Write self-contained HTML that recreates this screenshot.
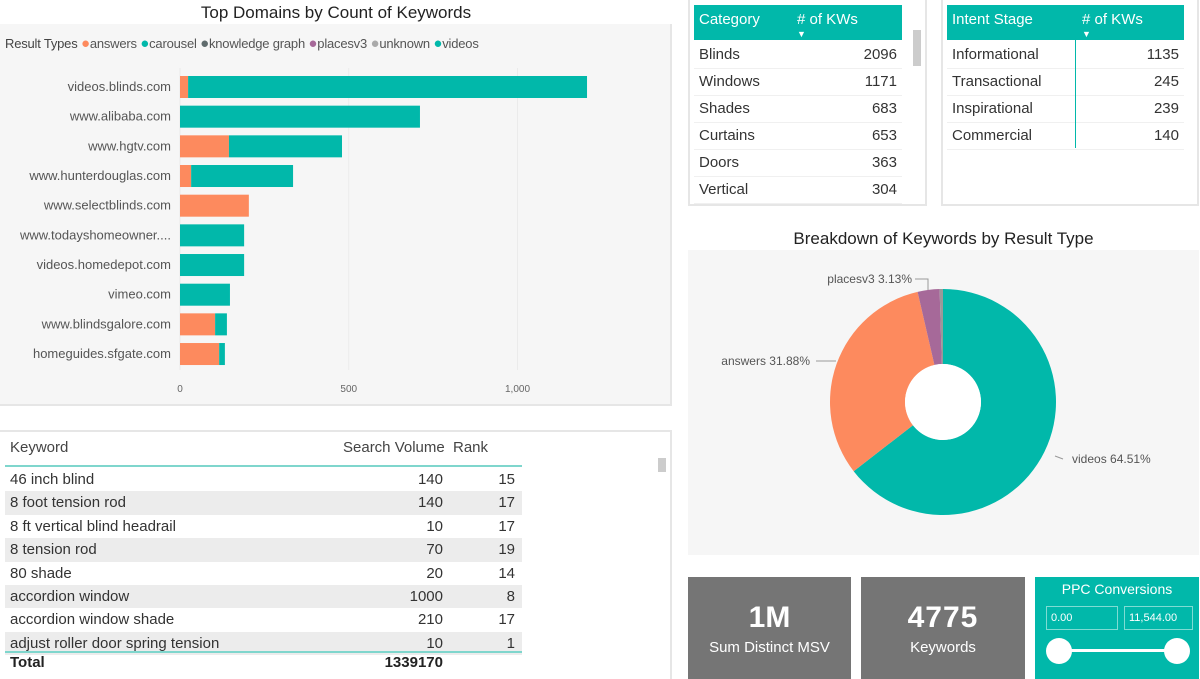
<!DOCTYPE html>
<html><head><meta charset="utf-8"><style>
*{box-sizing:border-box;margin:0;padding:0}
body{width:1200px;height:679px;overflow:hidden;background:#fff;font-family:"Liberation Sans",sans-serif;color:#333;position:relative}
.abs{position:absolute}
.t{font-size:15px;white-space:nowrap}
.r{text-align:right}
</style></head><body>
<div class="abs" style="left:0;top:24px;width:672px;height:382px;background:#f6f6f6;border-bottom:2px solid #e6e6e6;border-right:2px solid #e6e6e6"></div>
<div class="abs" style="left:0;top:3px;width:672px;text-align:center;font-size:17px;color:#222">Top Domains by Count of Keywords</div>
<div class="abs" style="left:5px;top:35px;font-size:13px;color:#555;white-space:nowrap;letter-spacing:-0.2px">
<b style="font-weight:normal;color:#444">Result Types</b>
<span><span style="color:#fd8a5e;font-size:15px">●</span>answers</span>
<span><span style="color:#01b8aa;font-size:15px">●</span>carousel</span>
<span><span style="color:#5f6b6d;font-size:15px">●</span>knowledge graph</span>
<span><span style="color:#a66999;font-size:15px">●</span>placesv3</span>
<span><span style="color:#aaa;font-size:15px">●</span>unknown</span>
<span><span style="color:#01b8aa;font-size:15px">●</span>videos</span>
</div>
<svg class="abs" style="left:0;top:0" width="672" height="406" id="bars"></svg>

<div class="abs" style="left:0;top:430px;width:672px;height:249px;border-top:2px solid #e6e6e6;border-right:2px solid #e6e6e6"></div>
<div id="ktable"></div>

<div class="abs" style="left:688px;top:-2px;width:239px;height:208px;border:2px solid #e6e6e6"></div>
<div class="abs" style="left:694px;top:5px;width:208px;height:35px;background:#01b8aa;color:#fff">
<span class="abs t" style="left:5px;top:6px">Category</span><span class="abs t" style="left:103px;top:6px">#&nbsp;of KWs</span><span class="abs" style="left:103px;top:24px;font-size:9px">▼</span></div>
<div class="abs" style="left:913px;top:30px;width:8px;height:36px;background:#ccc"></div>
<div id="cat"></div>

<div class="abs" style="left:941px;top:-2px;width:258px;height:208px;border:2px solid #e6e6e6"></div>
<div class="abs" style="left:947px;top:5px;width:237px;height:35px;background:#01b8aa;color:#fff">
<span class="abs t" style="left:5px;top:6px">Intent Stage</span><span class="abs t" style="left:135px;top:6px"># of KWs</span><span class="abs" style="left:135px;top:24px;font-size:9px">▼</span></div>
<div id="intent"></div>
<div class="abs" style="left:1075px;top:40px;width:1px;height:108px;background:#01b8aa"></div>

<div class="abs" style="left:688px;top:250px;width:511px;height:305px;background:#f6f6f6"></div>
<div class="abs" style="left:688px;top:229px;width:511px;text-align:center;font-size:17px;color:#222">Breakdown of Keywords by Result Type</div>
<svg class="abs" style="left:688px;top:250px" width="511" height="305" id="pie"></svg>

<div class="abs" style="left:688px;top:577px;width:163px;height:102px;background:#757575;color:#fff;text-align:center">
<div style="font-size:30px;font-weight:bold;margin-top:24px">1M</div><div style="font-size:15px;margin-top:4px">Sum Distinct MSV</div></div>
<div class="abs" style="left:861px;top:577px;width:164px;height:102px;background:#757575;color:#fff;text-align:center">
<div style="font-size:30px;font-weight:bold;margin-top:24px;letter-spacing:1px">4775</div><div style="font-size:15px;margin-top:4px">Keywords</div></div>
<div class="abs" style="left:1035px;top:577px;width:164px;height:102px;background:#01b8aa;color:#fff">
<div style="text-align:center;font-size:14px;margin-top:4px">PPC Conversions</div>
<div class="abs" style="left:11px;top:29px;width:72px;height:24px;border:1px solid #7fdcd3;font-size:11px;padding:5px 4px">0.00</div>
<div class="abs" style="left:89px;top:29px;width:69px;height:24px;border:1px solid #7fdcd3;font-size:11px;padding:5px 4px">11,544.00</div>
<div class="abs" style="left:22px;top:72px;width:120px;height:3px;background:#fff"></div>
<div class="abs" style="left:11px;top:61px;width:26px;height:26px;border-radius:50%;background:#fff"></div>
<div class="abs" style="left:129px;top:61px;width:26px;height:26px;border-radius:50%;background:#fff"></div>
</div>

<script>
const domains=["videos.blinds.com","www.alibaba.com","www.hgtv.com","www.hunterdouglas.com","www.selectblinds.com","www.todayshomeowner....","videos.homedepot.com","vimeo.com","www.blindsgalore.com","homeguides.sfgate.com"];
const answers=[24,0,145,33,204,0,0,0,104,116];
const videos=[1182,711,335,302,0,190,190,148,35,17];
const xTicks=[0,500,1000];
const xTickLabels=["0","500","1,000"];

const svgNS="http://www.w3.org/2000/svg";
const bars=document.getElementById('bars');
const x=v=>180+v*0.3375;
const y=i=>87+i*29.67;
function mk(p,tag,a){const e=document.createElementNS(svgNS,tag);for(const k in a)e.setAttribute(k,a[k]);p.appendChild(e);return e;}
xTicks.forEach((t,i)=>{
  const g=mk(bars,'line',{x1:x(t),x2:x(t),y1:68,y2:370,stroke:'#ebebeb'});
  
  
  const l=mk(bars,'text',{x:x(t),y:392,'text-anchor':'middle','font-size':10,fill:'#666'});
  l.textContent=xTickLabels[i];
  
  
});
domains.forEach((d,i)=>{
  const l=mk(bars,'text',{x:171,y:y(i)+4,'text-anchor':'end','font-size':13,fill:'#555'});
  l.textContent=d;
  
  
  const a=mk(bars,'rect',{x:x(0),y:y(i)-11,width:answers[i]*0.3375,height:22,fill:'#fd8a5e'});
  
  
  const v=mk(bars,'rect',{x:x(answers[i]),y:y(i)-11,width:videos[i]*0.3375,height:22,fill:'#01b8aa'});
  
  
});

const kws=["46 inch blind","8 foot tension rod","8 ft vertical blind headrail","8 tension rod","80 shade","accordion window","accordion window shade","adjust roller door spring tension"];
const vols=[140,140,10,70,20,1000,210,10];
const ranks=[15,17,17,19,14,8,17,1];
let h='<div class="abs t" style="left:10px;top:439px;color:#444">Keyword</div><div class="abs t" style="left:343px;top:439px;color:#444">Search Volume</div><div class="abs t" style="left:453px;top:439px;color:#444">Rank</div>';
h+='<div class="abs" style="left:5px;top:465px;width:517px;height:2px;background:#7fd6cd"></div>';
kws.forEach((k,i)=>{const top=468+i*23.4;
 h+=`<div class="abs" style="left:5px;top:${top}px;width:517px;height:23.4px;background:${i%2?'#ececec':'#fff'};overflow:hidden"><span class="abs t" style="left:5px;top:3px">${k}</span><span class="abs t r" style="right:79px;top:3px">${vols[i]}</span><span class="abs t r" style="right:7px;top:3px">${ranks[i]}</span></div>`;});
h+='<div class="abs" style="left:5px;top:651px;width:517px;height:2px;background:#7fd6cd"></div>';
h+='<div class="abs t" style="left:10px;top:654px;font-weight:bold;color:#222">Total</div><div class="abs t r" style="left:340px;width:103px;top:654px;font-weight:bold;color:#222">1339170</div>';
h+='<div class="abs" style="left:658px;top:458px;width:8px;height:14px;background:#ccc"></div>';
document.getElementById('ktable').innerHTML=h;

const cats=["Blinds","Windows","Shades","Curtains","Doors","Vertical"];
const catVals=[2096,1171,683,653,363,304];
h='';cats.forEach((c,i)=>{h+=`<div class="abs" style="left:694px;top:${42+i*27}px;width:208px;height:27px;border-bottom:1px solid #f0f0f0"><span class="abs t" style="left:5px;top:4px">${c}</span><span class="abs t" style="right:5px;top:4px">${catVals[i]}</span></div>`});
document.getElementById('cat').innerHTML=h;
const intents=["Informational","Transactional","Inspirational","Commercial"];
const intentVals=[1135,245,239,140];
h='';intents.forEach((c,i)=>{h+=`<div class="abs" style="left:947px;top:${42+i*27}px;width:237px;height:27px;border-bottom:1px solid #f0f0f0"><span class="abs t" style="left:5px;top:4px">${c}</span><span class="abs t" style="right:5px;top:4px">${intentVals[i]}</span></div>`});
document.getElementById('intent').innerHTML=h;

const pieLabels=["videos","answers","placesv3","unknown"];
const pieVals=[64.51,31.88,3.13,0.48];
const pieColors=["#01b8aa","#fd8a5e","#a66999","#999"];
const pie=document.getElementById('pie');
const cx=255,cy=152,R=113,r0=38;
let ang=0;const tot=pieVals.reduce((a,b)=>a+b,0);
function pt(a,rr){return [cx+rr*Math.sin(a),cy-rr*Math.cos(a)];}
pieVals.forEach((v,i)=>{
 const a0=ang,a1=ang+v/tot*2*Math.PI;ang=a1;
 const [x0,y0]=pt(a0,R),[x1,y1]=pt(a1,R),[x2,y2]=pt(a1,r0),[x3,y3]=pt(a0,r0);
 const lg=(a1-a0)>Math.PI?1:0;
 const p=mk(pie,'path',{d:`M${x0},${y0}A${R},${R} 0 ${lg} 1 ${x1},${y1}L${x2},${y2}A${r0},${r0} 0 ${lg} 0 ${x3},${y3}Z`,fill:pieColors[i]});
 
 
});
mk(pie,'circle',{cx:cx,cy:cy,r:r0,fill:'#fff'});
const lbls=[["videos 64.51%",384,213,"start",[[367,206],[375,209]]],["answers 31.88%",122,115,"end",[[128,111],[148,111]]],["placesv3 3.13%",224,33,"end",[[227,29],[240,29],[240,40]]]];
lbls.forEach(l=>{
 const t=mk(pie,'text',{x:l[1],y:l[2],'text-anchor':l[3],'font-size':12,fill:'#555'});
 t.textContent=l[0];
 
 
 mk(pie,'polyline',{points:l[4].map(p=>p.join(',')).join(' '),fill:'none',stroke:'#999'});
});
</script>
</body></html>
